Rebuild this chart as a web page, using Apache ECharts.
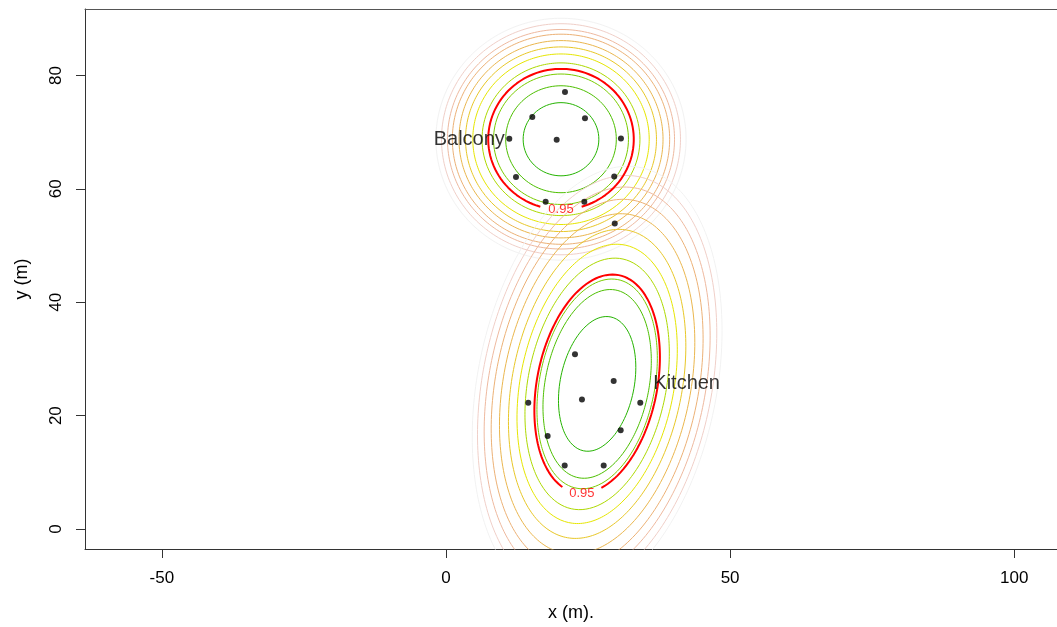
<!DOCTYPE html>
<html>
<head>
<meta charset="utf-8">
<script src="https://cdn.jsdelivr.net/npm/echarts@6/dist/echarts.min.js"></script>
<style>
  html, body { margin: 0; padding: 0; background: #ffffff; }
  #chart { width: 1057px; height: 627px; }
</style>
</head>
<body>
<div id="chart"></div>
<script>
// Observed positions (m)
const balconyX = [20.94, 15.19, 24.46, 11.14, 19.48, 30.79, 12.32, 29.61, 17.54, 24.34];
const balconyY = [77.08, 72.69, 72.44, 68.82, 68.64, 68.87, 62.07, 62.19, 57.74, 57.74];
const kitchenX = [22.70, 29.51, 23.93, 14.48, 34.19, 17.89, 30.74, 20.89, 27.75, 29.70];
const kitchenY = [30.84, 26.09, 22.86, 22.28, 22.28, 16.42, 17.41, 11.20, 11.20, 53.87];

// Home-range model per area: centre and the 0.95 isopleth ellipse (variance terms, m^2)
const areaNames = ['Balcony', 'Kitchen'];
const centreX = [20.24, 26.6];
const centreY = [68.75, 25.6];
const shapeXX = [164, 122];
const shapeYY = [154, 372];
const shapeXY = [0, 52];
const isoplethLevel = 0.95;

// Density contours, as multiples of the 0.95 isopleth, inner to outer
const balconyContours = [0.52, 0.76, 0.927, 1.085, 1.212, 1.312, 1.402, 1.493, 1.56, 1.642, 1.719];
const kitchenContours = [0.616, 0.863, 0.959, 1.15, 1.277, 1.413, 1.556, 1.688, 1.80, 1.906, 1.99];
const contourColors = ['#24B300', '#4DBF00', '#7ACC00', '#ADD900', '#E6E600', '#E8C727',
                       '#EAB64E', '#ECB176', '#EEB99F', '#F0CFC8', '#F2F2F2'];

// Axis ticks
const xTicks = [-50, 0, 50, 100];
const yTicks = [0, 20, 40, 60, 80];

const FONT = 'Liberation Sans, Arial, Helvetica, sans-serif';
const STEPS = 240;
const AXIS_COLOR = '#333333';

function ellipsePoint(i, scale, t) {
  const l11 = Math.sqrt(shapeXX[i]);
  const l21 = shapeXY[i] / l11;
  const l22 = Math.sqrt(shapeYY[i] - l21 * l21);
  const u = Math.cos(t), v = Math.sin(t);
  return [centreX[i] + scale * l11 * u, centreY[i] + scale * (l21 * u + l22 * v)];
}

function contourPath(i, scale) {
  const pts = [];
  for (let k = 0; k <= STEPS; k++) pts.push(ellipsePoint(i, scale, 2 * Math.PI * k / STEPS));
  return pts;
}

// lowest point of the 0.95 isopleth, where its label sits
function labelAnchor(i) {
  return [centreX[i] - shapeXY[i] / Math.sqrt(shapeYY[i]), centreY[i] - Math.sqrt(shapeYY[i])];
}

// 0.95 isopleth with a gap left open for its label
function isoplethPath(i, gap) {
  const l11 = Math.sqrt(shapeXX[i]);
  const l21 = shapeXY[i] / l11;
  const l22 = Math.sqrt(shapeYY[i] - l21 * l21);
  const t0 = Math.atan2(-l22, -l21);
  const a = labelAnchor(i);
  const pts = [];
  for (let k = 0; k <= STEPS; k++) {
    const p = ellipsePoint(i, 1, t0 + 2 * Math.PI * k / STEPS);
    if (Math.hypot(p[0] - a[0], p[1] - a[1]) > gap) pts.push(p);
  }
  return pts;
}

const series = [];
const contourSets = [balconyContours, kitchenContours];
contourSets.forEach((levels, i) => {
  levels.forEach((s, j) => {
    series.push({
      type: 'line', data: contourPath(i, s), showSymbol: false, symbol: 'none',
      silent: true, z: 2, clip: true,
      lineStyle: { width: 1, color: contourColors[j] }
    });
  });
});
[0, 1].forEach(i => {
  series.push({
    type: 'line', data: isoplethPath(i, 3.45), showSymbol: false, symbol: 'none',
    silent: true, z: 3, clip: true,
    lineStyle: { width: 2, color: '#FF0000' }
  });
  series.push({
    type: 'scatter', data: [labelAnchor(i)], symbolSize: 0, silent: true, z: 4,
    label: { show: true, position: 'inside', formatter: String(isoplethLevel),
             color: '#FF0000', fontSize: 13, fontFamily: FONT }
  });
});

series.push({
  type: 'scatter', silent: true, z: 5, symbol: 'circle', symbolSize: 6,
  itemStyle: { color: '#000000' },
  data: balconyX.map((x, k) => [x, balconyY[k]])
});
series.push({
  type: 'scatter', silent: true, z: 5, symbol: 'circle', symbolSize: 6,
  itemStyle: { color: '#000000' },
  data: kitchenX.map((x, k) => [x, kitchenY[k]])
});

// Area names beside each cluster
series.push({
  type: 'scatter', symbolSize: 0, silent: true, z: 6,
  data: [
    { value: [centreX[0] - 9, centreY[0]], label: { position: 'left', formatter: areaNames[0] } },
    { value: [centreX[1] + 9, centreY[1]], label: { position: 'right', formatter: areaNames[1] } }
  ],
  label: { show: true, distance: 5, color: '#000000', fontSize: 20, fontFamily: FONT }
});

const chart = echarts.init(document.getElementById('chart'), null, { renderer: 'canvas' });
chart.setOption({
  animation: false,
  backgroundColor: '#ffffff',
  grid: { left: 85, right: 0, top: 9, bottom: 76.3, show: false },
  xAxis: [{
    type: 'value', min: -63.52, max: 107.52, position: 'bottom',
    name: 'x (m).', nameLocation: 'middle', nameGap: 55,
    nameTextStyle: { fontSize: 18, fontFamily: FONT, color: '#000000' },
    axisLine: { show: true, onZero: false, lineStyle: { color: AXIS_COLOR, width: 1 } },
    splitLine: { show: false },
    axisTick: { show: true, length: 9, customValues: xTicks, lineStyle: { color: AXIS_COLOR } },
    axisLabel: { customValues: xTicks, margin: 21, fontSize: 17, fontFamily: FONT, color: '#000000' }
  }, {
    // top edge of the plot frame
    type: 'value', min: -63.52, max: 107.52, position: 'top',
    axisLine: { show: true, onZero: false, lineStyle: { color: '#555555', width: 1 } },
    splitLine: { show: false }, axisTick: { show: false }, axisLabel: { show: false }
  }],
  yAxis: {
    type: 'value', min: -3.52, max: 91.72,
    name: 'y (m)', nameLocation: 'middle', nameGap: 54, nameRotate: 90,
    nameTextStyle: { fontSize: 18, fontFamily: FONT, color: '#000000' },
    axisLine: { show: true, onZero: false, lineStyle: { color: AXIS_COLOR, width: 1 } },
    splitLine: { show: false },
    axisTick: { show: true, length: 9, customValues: yTicks, lineStyle: { color: AXIS_COLOR } },
    axisLabel: { customValues: yTicks, rotate: 90, margin: 20, fontSize: 17, fontFamily: FONT, color: '#000000' }
  },
  series: series
});
</script>
</body>
</html>
